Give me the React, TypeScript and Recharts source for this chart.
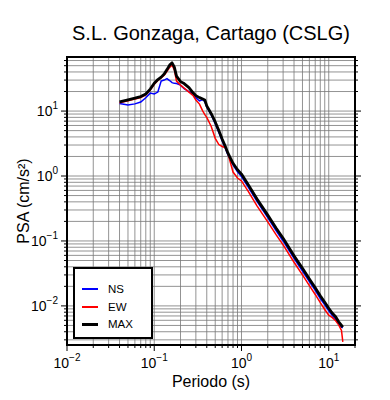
import { CartesianGrid, Line, LineChart, XAxis, YAxis } from "recharts"

// Periodo (s)
const periods = [
  0.04, 0.05, 0.06, 0.07, 0.08, 0.09, 0.1, 0.11, 0.12, 0.13, 0.14, 0.15, 0.16, 0.17, 0.18, 0.2, 0.22, 0.25,
  0.28, 0.3, 0.33, 0.36, 0.38, 0.4, 0.45, 0.5, 0.55, 0.6, 0.65, 0.7, 0.8, 0.9, 1.0, 1.2, 1.5, 2, 2.5, 3, 4, 5,
  6, 7, 8, 9, 10, 11, 12, 13, 14, 14.5,
]

// PSA (cm/s²) por componente
const psaNS = [
  13.1, 12.4, 12.9, 13.8, 16.0, 18.9, 18.3, 19.6, 29, 30, 31.6, 29.5, 27.4, 26.7, 26.5, 25.1, 22.2, 20, 18.3,
  16.1, 14.3, 15, 13.9, 11.5, 8.7, 6.4, 4.7, 3.5, 2.7, 2.12, 1.48, 1.16, 0.98, 0.67, 0.41, 0.228, 0.143, 0.1,
  0.054, 0.0345, 0.0237, 0.0173, 0.013, 0.0104, 0.0084, 0.0071, 0.0062, 0.0053, 0.0047, 0.0046,
]
const psaEW = [
  13.4, 14.4, 15.3, 16.2, 17.8, 21.0, 25.8, 29.6, 32.3, 35.5, 41, 47, 51, 43, 29, 25.1, 22.6, 19.6, 17.2, 14.8,
  12.8, 10, 8.8, 8.0, 5.8, 3.8, 3.05, 2.85, 2.75, 2.2, 1.15, 0.93, 0.84, 0.575, 0.35, 0.197, 0.124, 0.087,
  0.047, 0.03, 0.0205, 0.015, 0.0112, 0.0088, 0.0072, 0.0066, 0.0059, 0.0051, 0.0042, 0.0028,
]
const psaMax = [
  13.9, 14.9, 15.8, 16.7, 18.3, 21.8, 26.9, 30.5, 33.3, 37.1, 43.5, 51, 55.3, 47.5, 34.5, 28.4, 26.5, 23,
  18.9, 17.3, 16.1, 15.3, 14.8, 12.0, 9.1, 6.8, 5.0, 3.7, 2.9, 2.25, 1.57, 1.25, 1.07, 0.73, 0.445, 0.25,
  0.157, 0.11, 0.059, 0.038, 0.026, 0.019, 0.0143, 0.0114, 0.0092, 0.0077, 0.0068, 0.0057, 0.005, 0.0047,
]

const xTicks = [
  0.01, 0.02, 0.03, 0.04, 0.05, 0.06, 0.07, 0.08, 0.09, 0.1, 0.2, 0.3, 0.4, 0.5, 0.6, 0.7, 0.8, 0.9, 1, 2, 3, 4,
  5, 6, 7, 8, 9, 10, 20,
]
const yTicks = [
  0.003, 0.004, 0.005, 0.006, 0.007, 0.008, 0.009, 0.01, 0.02, 0.03, 0.04, 0.05, 0.06, 0.07, 0.08, 0.09, 0.1,
  0.2, 0.3, 0.4, 0.5, 0.6, 0.7, 0.8, 0.9, 1, 2, 3, 4, 5, 6, 7, 8, 9, 10, 20, 30, 40, 50, 60,
]
const decadeValues = [0.01, 0.1, 1, 10]
const decadeExponents = ["\u22122", "\u22121", "0", "1"]

const seriesNames = ["NS", "EW", "MAX"]
const seriesColors = ["#0000ff", "#ff0000", "#000000"]

const rows = periods.map((t, i) => ({ t, ns: psaNS[i], ew: psaEW[i], max: psaMax[i] }))

const font = "'Liberation Sans', Arial, Helvetica, sans-serif"
const frame = { stroke: "#000", strokeWidth: 2, strokeLinecap: "square" as const }

const exponentOf = (v: number) => {
  const i = decadeValues.findIndex((d) => Math.abs(d - v) < d * 1e-6)
  return i >= 0 ? decadeExponents[i] : null
}
const isMajor = (v: number) => Math.abs(Math.log10(v) - Math.round(Math.log10(v))) < 1e-6

const BottomTick = ({ x, y, payload }: any) => {
  const exp = exponentOf(payload.value)
  return (
    <g>
      <line x1={x} x2={x} y1={y} y2={y + (isMajor(payload.value) ? 6 : 3)} stroke="#000" />
      {exp && (
        <text x={x} y={y + 23} textAnchor="middle" fontSize={14} fontFamily={font} fill="#000">
          10
          <tspan dy={-7} fontSize={10}>
            {exp}
          </tspan>
        </text>
      )}
    </g>
  )
}

const TopTick = ({ x, y, payload }: any) => (
  <line x1={x} x2={x} y1={y} y2={y - (isMajor(payload.value) ? 6 : 3)} stroke="#000" />
)

const LeftTick = ({ x, y, payload }: any) => {
  const exp = exponentOf(payload.value)
  return (
    <g>
      <line x1={x} x2={x - (isMajor(payload.value) ? 6 : 3)} y1={y} y2={y} stroke="#000" />
      {exp && (
        <text x={x - 9} y={y + 5} textAnchor="end" fontSize={14} fontFamily={font} fill="#000">
          10
          <tspan dy={-7} fontSize={10}>
            {exp}
          </tspan>
        </text>
      )}
    </g>
  )
}

const RightTick = ({ x, y, payload }: any) => (
  <line x1={x} x2={x + (isMajor(payload.value) ? 6 : 3)} y1={y} y2={y} stroke="#000" />
)

export default function App() {
  return (
    <div style={{ position: "absolute", left: 0, top: 0, width: 390, height: 400, background: "#fff", fontFamily: font }}>
      <LineChart width={390} height={400} data={rows} margin={{ top: 0, right: 0, bottom: 0, left: 0 }}>
        <CartesianGrid stroke="#777" strokeWidth={0.8} />
        <XAxis
          dataKey="t"
          type="number"
          scale="log"
          domain={[0.01, 20]}
          allowDataOverflow
          ticks={xTicks}
          interval={0}
          height={55}
          tickSize={0}
          tickMargin={0}
          tickLine={false}
          axisLine={frame}
          tick={<BottomTick />}
        />
        <XAxis
          xAxisId="top"
          orientation="top"
          type="number"
          scale="log"
          domain={[0.01, 20]}
          allowDataOverflow
          ticks={xTicks}
          interval={0}
          height={57}
          tickSize={0}
          tickMargin={0}
          tickLine={false}
          axisLine={frame}
          tick={<TopTick />}
        />
        <YAxis
          type="number"
          scale="log"
          domain={[0.0025, 68]}
          allowDataOverflow
          ticks={yTicks}
          interval={0}
          width={67}
          tickSize={0}
          tickMargin={0}
          tickLine={false}
          axisLine={frame}
          tick={<LeftTick />}
        />
        <YAxis
          yAxisId="right"
          orientation="right"
          type="number"
          scale="log"
          domain={[0.0025, 68]}
          allowDataOverflow
          ticks={yTicks}
          interval={0}
          width={35}
          tickSize={0}
          tickMargin={0}
          tickLine={false}
          axisLine={frame}
          tick={<RightTick />}
        />
        <Line type="linear" dataKey="ns" stroke={seriesColors[0]} strokeWidth={1.5} dot={false} isAnimationActive={false} />
        <Line type="linear" dataKey="ew" stroke={seriesColors[1]} strokeWidth={1.5} dot={false} isAnimationActive={false} />
        <Line
          type="linear"
          dataKey="max"
          stroke={seriesColors[2]}
          strokeWidth={2.8}
          strokeLinejoin="round"
          dot={false}
          isAnimationActive={false}
        />
      </LineChart>

      <svg width={390} height={400} style={{ position: "absolute", left: 0, top: 0, pointerEvents: "none" }}>
        <text x={211} y={40} textAnchor="middle" fontSize={20} fontFamily={font} fill="#000">
          S.L. Gonzaga, Cartago (CSLG)
        </text>
        <text x={211} y={387} textAnchor="middle" fontSize={16} fontFamily={font} fill="#000">
          Periodo (s)
        </text>
        <text x={29} y={201} textAnchor="middle" fontSize={16} fontFamily={font} fill="#000" transform="rotate(-90 29 201)">
          PSA (cm/s²)
        </text>
      </svg>

      <div
        style={{
          position: "absolute",
          left: 73,
          top: 267,
          width: 80,
          height: 72,
          boxSizing: "border-box",
          border: "2px solid #000",
          background: "#fff",
        }}
      >
        {seriesNames.map((name, i) => (
          <div
            key={name}
            style={{
              position: "absolute",
              left: 7,
              top: [13, 31, 48][i],
              display: "flex",
              alignItems: "center",
              height: 14,
            }}
          >
            <div style={{ width: 16, height: i === 2 ? 3 : 2, background: seriesColors[i] }} />
            <span style={{ marginLeft: 10, fontSize: 11.5, lineHeight: "14px", color: "#000" }}>{name}</span>
          </div>
        ))}
      </div>
    </div>
  )
}
